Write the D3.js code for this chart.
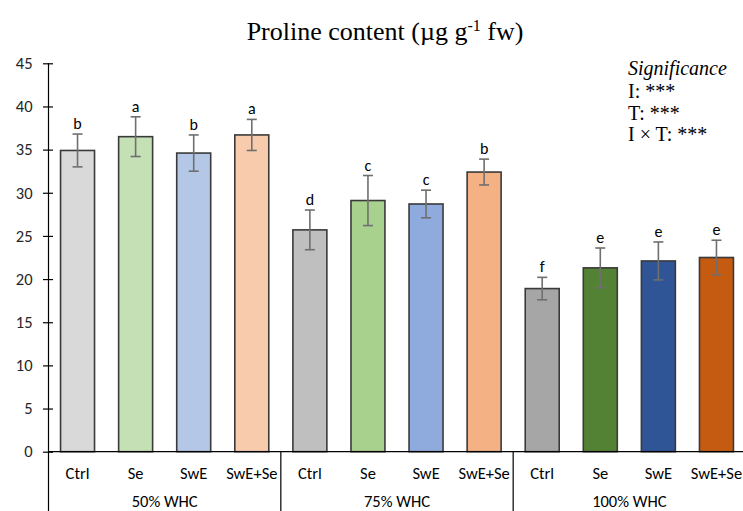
<!DOCTYPE html>
<html>
<head>
<meta charset="utf-8">
<script src="https://cdn.jsdelivr.net/npm/d3@7"></script>
<style>
  html, body { margin: 0; padding: 0; background: #fff; }
  svg { display: block; }
</style>
</head>
<body>
<svg id="chart" width="743" height="511"></svg>
<script>
// Proline content per irrigation level (WHC) and treatment
const groups = ["50% WHC", "75% WHC", "100% WHC"];
const treatments = ["Ctrl", "Se", "SwE", "SwE+Se"];
const means = [34.9, 36.5, 34.6, 36.7, 25.7, 29.1, 28.7, 32.4, 18.9, 21.3, 22.1, 22.5];
const sds   = [1.9, 2.3, 2.1, 1.8, 2.3, 2.9, 1.6, 1.5, 1.3, 2.3, 2.2, 2.0];
const letters = ["b", "a", "b", "a", "d", "c", "c", "b", "f", "e", "e", "e"];
const colors = ["#d9d9d9", "#c5e0b4", "#b4c7e7", "#f8cbad",
                "#bfbfbf", "#a9d18e", "#8faadc", "#f4b183",
                "#a6a6a6", "#548235", "#2f5597", "#c55a11"];
const yTicks = [0, 5, 10, 15, 20, 25, 30, 35, 40, 45];
const sigLines = ["I: ***", "T: ***", "I \u00d7 T: ***"];

const rows = means.map((m, i) => ({
  key: i,
  group: groups[Math.floor(i / treatments.length)],
  treatment: treatments[i % treatments.length],
  mean: m, sd: sds[i], letter: letters[i], color: colors[i]
}));

const svg = d3.select("#chart");
const plotLeft = 48.5, plotRight = 745.5, plotTop = 63.3, plotBottom = 451.7;

const x = d3.scaleBand().domain(rows.map(d => d.key)).range([plotLeft, plotRight])
  .paddingInner(0.415).paddingOuter(0.2075);
const y = d3.scaleLinear().domain([0, 45]).range([plotBottom, plotTop]);

const sans = "Carlito, Calibri, 'Open Sans', sans-serif";
const serif = "'Liberation Serif', 'Times New Roman', serif";

// Title
const title = svg.append("text")
  .attr("x", 385).attr("y", 40)
  .attr("text-anchor", "middle")
  .style("font-family", serif).style("font-size", "26px").attr("fill", "#000");
title.append("tspan").text("Proline content (\u00b5g g");
title.append("tspan").attr("dy", -9).style("font-size", "16px").text("-1");
title.append("tspan").attr("dy", 9).text(" fw)");

// Y axis
const yAxis = svg.append("g").attr("transform", `translate(${plotLeft},0)`)
  .call(d3.axisLeft(y).tickValues(yTicks).tickSize(6).tickPadding(10));
yAxis.select(".domain").remove();
yAxis.selectAll(".tick line").attr("x1", -5.5).attr("x2", 4.5).attr("stroke", "#000").attr("stroke-width", 1.2);
yAxis.selectAll(".tick text").style("font-family", sans).style("font-size", "16.5px").attr("fill", "#262626");
svg.append("line").attr("x1", plotLeft).attr("x2", plotLeft).attr("y1", plotTop).attr("y2", 511)
  .attr("stroke", "#000").attr("stroke-width", 1.2);

// Bars
svg.append("g").selectAll("rect").data(rows).join("rect")
  .attr("x", d => x(d.key)).attr("width", x.bandwidth())
  .attr("y", d => y(d.mean)).attr("height", d => y(0) - y(d.mean))
  .attr("fill", d => d.color).attr("stroke", "#3a3a3a").attr("stroke-width", 1.6);

// Error bars
const eb = svg.append("g").attr("stroke", "#6f6f6f").attr("stroke-width", 1.6);
rows.forEach(d => {
  const cx = x(d.key) + x.bandwidth() / 2;
  eb.append("line").attr("x1", cx).attr("x2", cx).attr("y1", y(d.mean + d.sd)).attr("y2", y(d.mean - d.sd));
  eb.append("line").attr("x1", cx - 5).attr("x2", cx + 5).attr("y1", y(d.mean + d.sd)).attr("y2", y(d.mean + d.sd));
  eb.append("line").attr("x1", cx - 5).attr("x2", cx + 5).attr("y1", y(d.mean - d.sd)).attr("y2", y(d.mean - d.sd));
});

// Significance letters
svg.append("g").selectAll("text").data(rows).join("text")
  .attr("x", d => x(d.key) + x.bandwidth() / 2)
  .attr("y", d => y(d.mean + d.sd) - 5)
  .attr("text-anchor", "middle")
  .style("font-family", sans).style("font-size", "16px").attr("fill", "#000")
  .text(d => d.letter);

// X axis baseline
svg.append("line").attr("x1", plotLeft).attr("x2", 743).attr("y1", plotBottom).attr("y2", plotBottom)
  .attr("stroke", "#000").attr("stroke-width", 1.2);

// Treatment labels
svg.append("g").selectAll("text").data(rows).join("text")
  .attr("x", d => x(d.key) + x.bandwidth() / 2)
  .attr("y", 479)
  .attr("text-anchor", "middle")
  .style("font-family", sans).style("font-size", "16.5px").attr("fill", "#000")
  .text(d => d.treatment);

// Group separators and labels
const step = x.step();
groups.forEach((g, gi) => {
  const first = rows[gi * treatments.length].key;
  const gx0 = x(first) - x.paddingInner() * step / 2;
  const gx1 = gx0 + step * treatments.length;
  if (gi > 0) {
    svg.append("line").attr("x1", gx0).attr("x2", gx0).attr("y1", plotBottom).attr("y2", 511)
      .attr("stroke", "#000").attr("stroke-width", 1.2);
  }
  svg.append("text").attr("x", (gx0 + gx1) / 2).attr("y", 507)
    .attr("text-anchor", "middle")
    .style("font-family", sans).style("font-size", "16.5px").attr("fill", "#000")
    .text(g);
});

// Significance box
const sig = svg.append("g").style("font-family", serif).style("font-size", "20px").attr("fill", "#000");
sig.append("text").attr("x", 628).attr("y", 75).style("font-style", "italic").text("Significance");
sigLines.forEach((t, i) => sig.append("text").attr("x", 628).attr("y", 98 + i * 21.5).text(t));
</script>
</body>
</html>
